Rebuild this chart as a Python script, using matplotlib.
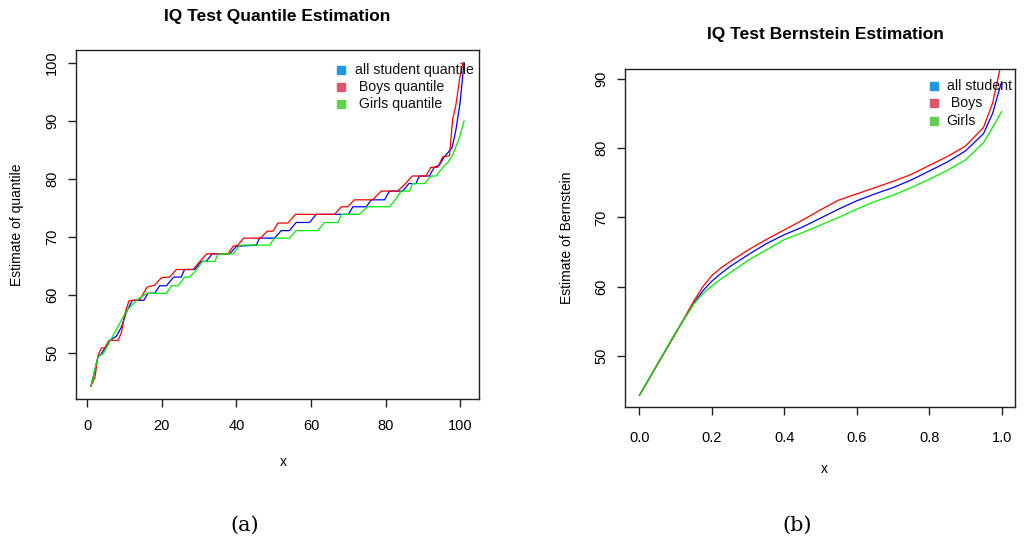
import matplotlib
matplotlib.use('Agg')
import matplotlib.pyplot as plt
import numpy as np

plt.rcParams['font.family'] = ['Liberation Sans', 'DejaVu Sans']

# ---- (a) quantile estimates: vertices of the stepped curves (x = 1..101) ----
all_q_x = [1, 2.9, 3.8, 6.1, 7.8, 9.2, 10.4, 12.1, 15.2, 16.3, 18.1, 19.4, 21.2, 23.2, 25.2,
           26.1, 28.8, 30.6, 31.9, 33.5, 38.2, 40.0, 45.3, 46.2, 50.2, 52.0, 54.2, 56.0, 59.6,
           61.4, 70.0, 71.2, 74.8, 76.1, 79.7, 81.0, 84.6, 86.2, 88.1, 89.0, 91.7, 93.0, 94.4,
           95.7, 97.8, 98.8, 99.9, 101]
all_q_y = [44.3, 49.4, 49.9, 52.2, 52.9, 54.5, 56.9, 59.1, 59.1, 60.3, 60.3, 61.6, 61.6, 63.1, 63.1,
           64.4, 64.4, 65.8, 65.8, 67.1, 67.1, 68.4, 68.6, 69.8, 69.8, 71.1, 71.1, 72.5, 72.5,
           73.9, 73.9, 75.2, 75.2, 76.4, 76.4, 77.9, 77.9, 79.2, 79.2, 80.5, 80.5, 82.0, 82.4,
           83.8, 85.4, 88.4, 93.0, 100.0]

boys_q_x = [1, 2.1, 2.9, 3.8, 4.7, 5.9, 8.3, 9.2, 10.1, 11.2, 14.1, 16.1, 18.1, 19.9, 22.1, 23.9,
            28.4, 30.2, 32.0, 37.7, 39.1, 40.4, 41.9, 46.4, 48.3, 49.8, 51.1, 53.8, 55.8, 66.3,
            68.1, 69.8, 71.6, 76.5, 78.8, 83.2, 85.3, 87.1, 90.8, 92.1, 93.9, 95.3, 97.1, 97.9,
            98.8, 99.9, 100.7]
boys_q_y = [44.3, 45.9, 49.6, 50.9, 50.9, 52.2, 52.2, 53.6, 56.8, 59.0, 59.2, 61.4, 61.7, 63.0, 63.1, 64.4,
            64.4, 65.8, 67.1, 67.1, 68.4, 68.6, 69.8, 69.8, 71.0, 71.0, 72.4, 72.4, 73.9, 73.9,
            75.2, 75.2, 76.4, 76.4, 77.9, 77.9, 79.2, 80.5, 80.5, 82.0, 82.0, 83.8, 84.0, 90.1,
            92.7, 97.6, 100.0]

girls_q_x = [1, 2.9, 4.3, 9.6, 11.0, 13.2, 15.9, 21.2, 22.6, 24.4, 26.1, 27.5, 29.3, 30.9, 34.2,
             35.1, 39.1, 40.9, 48.9, 50.2, 54.2, 56.0, 61.8, 63.6, 67.2, 68.1, 72.9, 75.2, 81.0,
             82.8, 84.1, 86.4, 87.2, 90.4, 92.1, 93.5, 95.3, 96.6, 97.9, 99.7, 101]
girls_q_y = [44.3, 49.4, 49.9, 56.2, 57.6, 59.1, 60.3, 60.3, 61.6, 61.6, 63.1, 63.1, 64.4, 65.8, 65.8,
             67.1, 67.1, 68.6, 68.6, 69.8, 69.8, 71.1, 71.1, 72.5, 72.5, 73.9, 73.9, 75.2, 75.2,
             76.6, 77.9, 77.9, 79.2, 79.2, 80.5, 80.5, 82.0, 82.8, 84.1, 87.0, 90.0]

# ---- (b) Bernstein estimates ----
bern_x = [0, .05, .1, .15, .175, .2, .225, .25, .3, .35, .4, .45, .5, .55, .6, .65, .7, .75, .8, .85,
          .9, .95, .975, 1.0]
bern_boys = [44.3, 48.8, 53.3, 57.9, 60.0, 61.6, 62.7, 63.6, 65.3, 66.8, 68.2, 69.6, 71.1, 72.5, 73.4,
             74.3, 75.2, 76.2, 77.5, 78.8, 80.3, 83.0, 86.5, 92.5]
bern_all = [44.3, 48.8, 53.3, 57.6, 59.4, 60.8, 61.9, 62.9, 64.6, 66.2, 67.5, 68.6, 69.9, 71.2, 72.4,
            73.4, 74.3, 75.4, 76.7, 78.0, 79.6, 82.1, 85.0, 89.6]
bern_girls = [44.3, 48.9, 53.4, 57.5, 59.0, 60.1, 61.1, 62.0, 63.8, 65.3, 66.8, 67.8, 68.9, 70.0, 71.2,
              72.3, 73.2, 74.3, 75.5, 76.8, 78.3, 80.8, 83.0, 85.3]

line_cols = ['blue', 'red', '#00ee00']
leg_cols = ['#2297E6', '#DF536B', '#61D04F']

fig = plt.figure(figsize=(10.26, 5.47), dpi=100)
W, H = 1026, 547


def box(l, t, r, b):
    return [l / W, 1 - b / H, (r - l) / W, (b - t) / H]


def style(ax, xpad):
    for s in ax.spines.values():
        s.set_linewidth(1.0)
        s.set_color('#222222')
    ax.tick_params(direction='out', length=6, width=1, labelsize=10.5, pad=6, color='#222222')
    ax.tick_params(axis='x', pad=xpad)
    for lab in ax.get_yticklabels():
        lab.set_rotation(90)
        lab.set_va('center')


def legend(ax, labels, x0, xt, ys):
    for lab, c, y in zip(labels, leg_cols, ys):
        ax.plot([x0], [y], marker='s', ms=5.3, color=c, transform=ax.transAxes, clip_on=False)
        ax.text(xt, y, lab, transform=ax.transAxes, fontsize=10.2, va='center', ha='left', color='#111111')


# (a)
ax1 = fig.add_axes(box(76, 50, 479, 399))
ax1.plot(all_q_x, all_q_y, color=line_cols[0], lw=0.9)
ax1.plot(boys_q_x, boys_q_y, color=line_cols[1], lw=0.9)
ax1.plot(girls_q_x, girls_q_y, color=line_cols[2], lw=0.9)
ax1.set_xlim(-3, 105)
ax1.set_ylim(42.1, 102.2)
ax1.set_xticks([0, 20, 40, 60, 80, 100])
ax1.set_yticks([50, 60, 70, 80, 90, 100])
style(ax1, 8.5)
legend(ax1, ['all student quantile', ' Boys quantile', ' Girls quantile'], 0.658, 0.692,
       [0.943, 0.894, 0.845])
fig.text(277 / W, 1 - 16 / H, 'IQ Test Quantile Estimation', ha='center', va='center',
         fontsize=12.5, fontweight='bold')
fig.text(17 / W, 1 - 225 / H, 'Estimate of quantile', rotation=90, ha='center', va='center', fontsize=10)
fig.text(283 / W, 1 - 462 / H, 'x', ha='center', va='center', fontsize=10)

# (b)
ax2 = fig.add_axes(box(625, 69, 1015, 407))
ax2.plot(bern_x, bern_all, color=line_cols[0], lw=0.9)
ax2.plot(bern_x, bern_boys, color=line_cols[1], lw=0.9)
ax2.plot(bern_x, bern_girls, color=line_cols[2], lw=0.9)
ax2.set_xlim(-0.04, 1.037)
ax2.set_ylim(42.6, 91.45)
ax2.set_xticks([0, 0.2, 0.4, 0.6, 0.8, 1.0])
ax2.set_xticklabels(['0.0', '0.2', '0.4', '0.6', '0.8', '1.0'])
ax2.set_yticks([50, 60, 70, 80, 90])
style(ax2, 11.5)
legend(ax2, ['all student', ' Boys', 'Girls'], 0.792, 0.825, [0.951, 0.899, 0.846])
fig.text(825 / W, 1 - 35 / H, 'IQ Test Bernstein Estimation', ha='center', va='center',
         fontsize=12.5, fontweight='bold')
fig.text(567 / W, 1 - 238 / H, 'Estimate of Bernstein', rotation=90, ha='center', va='center', fontsize=10)
fig.text(824 / W, 1 - 469 / H, 'x', ha='center', va='center', fontsize=10)

# captions
fig.text(245 / W, 1 - 525 / H, '(a)', ha='center', va='center', fontsize=15, family='DejaVu Serif')
fig.text(797 / W, 1 - 525 / H, '(b)', ha='center', va='center', fontsize=15, family='DejaVu Serif')

fig.savefig('out.png', dpi=100)
